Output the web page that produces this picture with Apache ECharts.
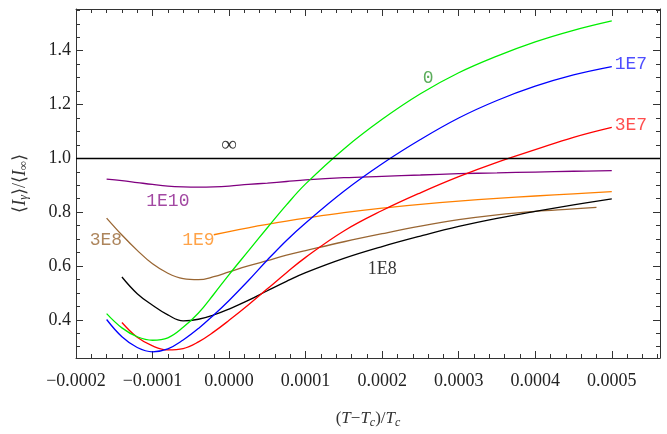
<!DOCTYPE html>
<html>
<head>
<meta charset="utf-8">
<script src="https://cdn.jsdelivr.net/npm/echarts@6/dist/echarts.min.js"></script>
<style>
  html, body { margin: 0; padding: 0; background: #fff; }
  #chart { width: 667px; height: 434px; }
</style>
</head>
<body>
<div id="chart"></div>
<script>
// x values are (T - Tc)/Tc
var xFull = [-0.00016, -0.00014, -0.00012, -0.0001, -0.00008, -0.00006, -0.00004, -0.00002, 0,
    0.000025, 0.00005, 0.000075, 0.0001, 0.00015, 0.0002, 0.00025, 0.0003, 0.00035, 0.0004, 0.00045, 0.0005];
var xFrom14 = xFull.slice(1);
var xOrange = [-0.00002, 0, 0.000025, 0.00005, 0.000075, 0.0001, 0.00015, 0.0002, 0.00025, 0.0003,
    0.00035, 0.0004, 0.00045, 0.0005];
var xBrown = [-0.00016, -0.00014, -0.00012, -0.0001, -0.00008, -0.00006, -0.00004, -0.00002, 0,
    0.000025, 0.00005, 0.000075, 0.0001, 0.00015, 0.0002, 0.00025, 0.0003, 0.00035, 0.0004, 0.00045, 0.00048];

var yZero = [0.423, 0.37, 0.337, 0.324, 0.333, 0.372, 0.425, 0.495, 0.568,
    0.655, 0.742, 0.827, 0.905, 1.035, 1.145, 1.24, 1.318, 1.38, 1.433, 1.476, 1.511];
var y1E7 = [0.401, 0.337, 0.297, 0.281, 0.292, 0.325, 0.368, 0.418, 0.472,
    0.545, 0.622, 0.695, 0.76, 0.878, 0.98, 1.07, 1.15, 1.215, 1.268, 1.31, 1.341];
var y3E7 = [0.39, 0.335, 0.303, 0.288, 0.293, 0.318, 0.355, 0.398,
    0.455, 0.515, 0.575, 0.632, 0.73, 0.806, 0.872, 0.932, 0.985, 1.032, 1.078, 1.115];
var y1E8 = [0.559, 0.497, 0.454, 0.418, 0.396, 0.402, 0.418, 0.44,
    0.472, 0.508, 0.543, 0.575, 0.628, 0.672, 0.711, 0.747, 0.777, 0.803, 0.827, 0.849];
var y3E8 = [0.778, 0.715, 0.658, 0.608, 0.573, 0.553, 0.549, 0.56, 0.578,
    0.6, 0.62, 0.64, 0.657, 0.69, 0.72, 0.748, 0.772, 0.79, 0.803, 0.812, 0.818];
var y1E9 = [0.716, 0.728, 0.742, 0.755, 0.767, 0.778, 0.798, 0.815, 0.829, 0.841, 0.851, 0.86, 0.868, 0.876];
var y1E10 = [0.923, 0.917, 0.91, 0.903, 0.897, 0.894, 0.893, 0.894, 0.897,
    0.903, 0.908, 0.914, 0.92, 0.928, 0.933, 0.938, 0.943, 0.946, 0.949, 0.952, 0.954];
var yLimit = 1.0;

// curve labels: text, x, y (data units)
var labelText = ['0', '1E7', '3E7', '1E8', '3E8', '1E9', '1E10', '\u221e'];
var labelX = [0.00026, 0.000525, 0.000525, 0.0002, -0.000161, -0.00004, -0.00008, 0];
var labelY = [1.297, 1.349, 1.122, 0.587, 0.695, 0.695, 0.839, 1.047];

var xTicks = { min: -0.0002, max: 0.000563, interval: 0.0001 };
var yRange = { min: 0.258, max: 1.555 };

function pairs(xs, ys) {
    return xs.map(function(x, i) { return [x, ys[i]]; });
}

var myChart = echarts.init(document.getElementById('chart'));

var serif = 'Liberation Serif';
var mono = 'Liberation Mono';
var frameColor = '#333';

var xBase = {
    type: 'value',
    min: xTicks.min,
    max: xTicks.max,
    interval: xTicks.interval,
    axisLine: { show: true, onZero: false, lineStyle: { color: frameColor, width: 1 } },
    axisTick: { show: true, inside: true, length: 7, lineStyle: { color: frameColor } },
    minorTick: { show: true, splitNumber: 5, length: 4, lineStyle: { color: frameColor } },
    splitLine: { show: false },
    minorSplitLine: { show: false }
};
var yBase = {
    type: 'value',
    min: yRange.min,
    max: yRange.max,
    splitNumber: 6,
    axisLine: { show: true, onZero: false, lineStyle: { color: frameColor, width: 1 } },
    axisTick: { show: true, inside: true, length: 7, lineStyle: { color: frameColor } },
    minorTick: { show: true, splitNumber: 4, length: 4, lineStyle: { color: frameColor } },
    splitLine: { show: false },
    minorSplitLine: { show: false }
};

var subStyle = { fontFamily: serif, fontSize: 12, fontStyle: 'italic', color: '#333', verticalAlign: 'bottom', padding: [8, 0, 0, 0] };

var option = {
    animation: false,
    backgroundColor: '#fff',
    grid: { left: 76, right: 7, top: 9, bottom: 74 },
    xAxis: [
        Object.assign({}, xBase, {
            position: 'bottom',
            name: '({i|T}\u2212{i|T}{s|c})/{i|T}{s|c}',
            nameLocation: 'middle',
            nameGap: 51,
            nameTextStyle: {
                fontFamily: serif, fontSize: 17, color: '#333',
                rich: { i: { fontFamily: serif, fontSize: 17, fontStyle: 'italic', color: '#333' }, s: subStyle }
            },
            axisLabel: {
                margin: 14,
                fontFamily: serif,
                fontSize: 18,
                color: '#222',
                formatter: function(v) { return (v < 0 ? '\u2212' : '') + Math.abs(v).toFixed(4); }
            }
        }),
        Object.assign({}, xBase, { position: 'top', axisLabel: { show: false } })
    ],
    yAxis: [
        Object.assign({}, yBase, {
            position: 'left',
            name: '\u27e8{i|I}{s|\u03b3}\u27e9/\u27e8{i|I}{s|\u221e}\u27e9',
            nameLocation: 'middle',
            nameGap: 46,
            nameTextStyle: {
                fontFamily: serif, fontSize: 18, color: '#333',
                rich: { i: { fontFamily: serif, fontSize: 18, fontStyle: 'italic', color: '#333' }, s: subStyle }
            },
            axisLabel: {
                margin: 5,
                fontFamily: serif,
                fontSize: 18,
                color: '#222',
                showMinLabel: false,
                showMaxLabel: false,
                formatter: function(v) { return v.toFixed(1); }
            }
        }),
        Object.assign({}, yBase, { position: 'right', axisLabel: { show: false } })
    ],
    series: [
        {
            name: '1E10', type: 'line', data: pairs(xFull, y1E10), smooth: 0.4, showSymbol: false,
            lineStyle: { color: '#800080', width: 1.3 }
        },
        {
            name: '3E8', type: 'line', data: pairs(xBrown, y3E8), smooth: 0.4, showSymbol: false,
            lineStyle: { color: '#996633', width: 1.3 }
        },
        {
            name: '1E9', type: 'line', data: pairs(xOrange, y1E9), smooth: 0.4, showSymbol: false,
            lineStyle: { color: '#ff8000', width: 1.3 }
        },
        {
            name: '1E8', type: 'line', data: pairs(xFrom14, y1E8), smooth: 0.4, showSymbol: false,
            lineStyle: { color: '#000', width: 1.3 },
            markLine: {
                silent: true, symbol: 'none', label: { show: false },
                lineStyle: { color: '#000', width: 1.3, type: 'solid' },
                data: [{ yAxis: yLimit }]
            }
        },
        {
            name: '3E7', type: 'line', data: pairs(xFrom14, y3E7), smooth: 0.4, showSymbol: false,
            lineStyle: { color: '#ff0000', width: 1.3 }
        },
        {
            name: '1E7', type: 'line', data: pairs(xFull, y1E7), smooth: 0.4, showSymbol: false,
            lineStyle: { color: '#0000ff', width: 1.3 }
        },
        {
            name: '0', type: 'line', data: pairs(xFull, yZero), smooth: 0.4, showSymbol: false,
            lineStyle: { color: '#00ee00', width: 1.3 }
        },
        {
            name: 'labels', type: 'scatter', symbolSize: 1,
            itemStyle: { color: 'rgba(0,0,0,0)' },
            data: labelText.map(function(t, i) {
                var colors = ['#339933', '#2222ff', '#ff2222', '#000', '#996633', '#ff8c1a', '#8b1a8b', '#000'];
                var fam = (t === '1E8' || t === '\u221e') ? serif : mono;
                return {
                    value: [labelX[i], labelY[i]],
                    label: {
                        show: true, position: 'inside', formatter: t,
                        color: colors[i], fontFamily: fam,
                        fontSize: t === '\u221e' ? 22 : 18
                    }
                };
            })
        }
    ]
};

myChart.setOption(option, true);
</script>
</body>
</html>
